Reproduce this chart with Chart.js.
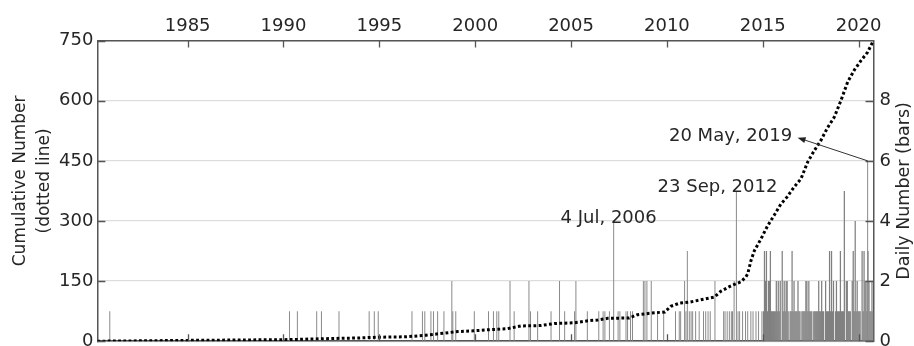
<!DOCTYPE html>
<html><head><meta charset="utf-8">
<script src="https://cdn.jsdelivr.net/npm/chart.js@4.4.0/dist/chart.umd.min.js"></script>
<style>
html,body{margin:0;padding:0;overflow:hidden;background:#fff;}
#wrap{width:914px;height:358px;position:relative;}
</style></head><body>
<div id="wrap"><canvas id="c" width="914" height="358"></canvas></div>
<script>
// ---- data ----
const cumYears  = [1980.33,1984.9,1990.1,1991.6,1993.5,1994.6,1996.0,1997.0,1997.7,1998.6,1999.4,2000.3,2001.1,2001.8,2002.8,2003.5,2004.5,2005.2,2005.7,2006.2,2007.3,2007.7,2008.4,2009.1,2009.4,2009.85,2010.4,2011.1,2011.6,2011.95,2012.45,2012.95,2013.2,2013.3,2013.46,2013.64,2013.97,2014.3,2014.65,2014.98,2015.3,2015.66,2016.0,2016.34,2016.68,2017.01,2017.35,2017.69,2018.03,2018.37,2018.71,2019.04,2019.38,2019.63,2019.68];
const cumValues = [0,2,4,6,8,10,11,15,19,24,26,29,31,38,39,44,46,51,53,57,58,66,70,73,87,95,98,105,110,125,138,148,160,168,200,226,255,287,315,342,360,385,405,447,476,501,533,559,601,647,677,700,721,746,750];

const barYears  = [1980.96,1990.07,1990.47,1991.45,1991.69,1992.58,1994.11,1994.37,1994.57,1996.28,1996.81,1996.93,1997.24,1997.37,1997.58,1997.90,1998.30,1998.35,1998.50,1999.44,2000.16,2000.41,2000.58,2000.68,2001.25,2001.46,2002.21,2002.29,2002.65,2003.33,2003.76,2004.02,2004.52,2004.59,2005.17,2005.75,2005.97,2006.06,2006.29,2006.505,2006.73,2006.82,2007.13,2007.21,2007.36,2007.46,2008.01,2008.09,2008.19,2008.41,2008.73,2009.04,2009.64,2009.83,2009.90,2010.10,2010.17,2010.24,2010.34,2010.43,2010.51,2010.66,2010.84,2011.06,2011.17,2011.29,2011.40,2011.64,2012.08,2012.15,2012.26,2012.37,2012.47,2012.53,2012.61,2012.727,2012.81,2012.89,2013.04,2013.19,2013.30,2013.46,2013.57,2013.72,2013.85,2014.02,2019.38];
const barCounts = [1,1,1,1,1,1,1,1,1,1,1,1,1,1,1,1,2,1,1,1,1,1,1,1,2,1,2,1,1,1,2,1,1,2,1,1,1,1,1,4,1,1,1,1,1,1,2,2,2,2,1,1,1,1,1,2,1,3,1,1,1,1,1,1,1,1,1,2,1,1,1,1,1,1,2,5,1,1,1,1,1,1,1,1,1,1,6];

// dense period: daily maximum read per 0.05-year slot, starting 2014.10
const denseStartYear = 2014.10;
const denseStepYears = 0.05;
const denseCounts = [1,3,2,3,1,2,2,3,1,1, 1,1,1,2,1,2,1,2,0,3, 1,2,1,2,2,1,0,1,1,3, 1,2,1,1,1,2,1,1,0,1, 1,1,1,2,2,1,2,1,1,1, 0,1,1,1,1,1,2,1,1,2, 1,1,0,2,1,1,1,3,1,3, 1,2,0,1,2,1,1,1,3,1, 1,1,5,0,2,2,1,1,1,0, 2,3,1,4,1,2,1,1,1,0, 3,1,3,2,2,1,3,2,1,1, 2,1];

const topTickYears  = [1985,1990,1995,2000,2005,2010,2015,2020];
const topTickLabels = ['1985','1990','1995','2000','2005','2010','2015','2020'];
const leftTicks  = [0,150,300,450,600,750];
const rightTicks = [0,2,4,6,8];

const leftTitleLines = ['Cumulative Number', '(dotted line)'];
const rightTitle = 'Daily Number (bars)';
const annoTexts  = ['4 Jul, 2006','23 Sep, 2012','20 May, 2019'];
const annoYears  = [2006.25, 2011.77, 2012.43];
const annoValues = [4.10, 5.12, 6.83];
const arrowFrom = {year: 2019.38, value: 6};
const arrowTo   = {year: 2015.83, value: 6.77};

// ---- build datasets ----
const sparsePoints = barYears.map((y,i)=>({x:y, y:barCounts[i]}));
const densePoints = [];
denseCounts.forEach((c,i)=>{ if (c>0) densePoints.push({x: denseStartYear + i*denseStepYears, y:c}); });
const cumPoints = cumYears.map((y,i)=>({x:y, y:cumValues[i]}));

const FONT = 'DejaVu Sans';
const TXT = '#262626';
const AXC = '#555555';

const decor = {
  id: 'decor',
  afterDraw(chart) {
    const {ctx, chartArea: a, scales} = chart;
    ctx.save();
    // inward tick marks
    ctx.strokeStyle = AXC; ctx.lineWidth = 1.3; ctx.beginPath();
    scales.xTop.ticks.forEach((t,i)=>{
      const px = Math.round(scales.xTop.getPixelForTick(i)) + 0.5;
      ctx.moveTo(px, a.top); ctx.lineTo(px, a.top + 7);
      ctx.moveTo(px, a.bottom); ctx.lineTo(px, a.bottom - 7);
    });
    scales.y.ticks.forEach((t,i)=>{
      const py = Math.round(scales.y.getPixelForTick(i)) + 0.5;
      ctx.moveTo(a.left, py); ctx.lineTo(a.left + 8, py);
    });
    scales.y2.ticks.forEach((t,i)=>{
      const py = Math.round(scales.y2.getPixelForTick(i)) + 0.5;
      ctx.moveTo(a.right, py); ctx.lineTo(a.right - 8, py);
    });
    ctx.stroke();
    // annotations
    const xs = scales.x, ys = scales.y2;
    ctx.fillStyle = TXT;
    ctx.font = '18px "' + FONT + '"';
    ctx.textAlign = 'center'; ctx.textBaseline = 'middle';
    annoTexts.forEach((t,i)=>{
      ctx.fillText(t, xs.getPixelForValue(annoYears[i]), ys.getPixelForValue(annoValues[i]));
    });
    // arrow
    const x0 = xs.getPixelForValue(arrowFrom.year), y0 = ys.getPixelForValue(arrowFrom.value);
    const x1 = xs.getPixelForValue(arrowTo.year),   y1 = ys.getPixelForValue(arrowTo.value);
    const ang = Math.atan2(y1 - y0, x1 - x0);
    ctx.strokeStyle = '#333'; ctx.lineWidth = 1;
    ctx.beginPath(); ctx.moveTo(x0, y0); ctx.lineTo(x1 - 6*Math.cos(ang), y1 - 6*Math.sin(ang)); ctx.stroke();
    ctx.fillStyle = '#222';
    ctx.beginPath();
    ctx.moveTo(x1, y1);
    ctx.lineTo(x1 - 8*Math.cos(ang) + 3*Math.sin(ang), y1 - 8*Math.sin(ang) - 3*Math.cos(ang));
    ctx.lineTo(x1 - 8*Math.cos(ang) - 3*Math.sin(ang), y1 - 8*Math.sin(ang) + 3*Math.cos(ang));
    ctx.closePath(); ctx.fill();
    // axis titles (both read bottom to top)
    ctx.fillStyle = TXT; ctx.textAlign = 'center'; ctx.textBaseline = 'middle';
    ctx.font = '17.5px "' + FONT + '"';
    ctx.save();
    ctx.translate(904, (a.top + a.bottom) / 2);
    ctx.rotate(-Math.PI/2);
    ctx.fillText(rightTitle, 0, 0);
    ctx.restore();
    ctx.font = '17px "' + FONT + '"';
    ctx.save();
    ctx.translate(0, (a.top + a.bottom) / 2 - 10);
    ctx.rotate(-Math.PI/2);
    ctx.fillText(leftTitleLines[0], 0, 21);
    ctx.fillText(leftTitleLines[1], 0, 45);
    ctx.restore();
    ctx.restore();
  }
};

Chart.defaults.font.family = FONT;
Chart.defaults.font.size = 18;
Chart.defaults.color = TXT;

new Chart(document.getElementById('c'), {
  data: {
    datasets: [
      { type: 'line', data: cumPoints, xAxisID: 'x', yAxisID: 'y', order: 0,
        borderColor: '#000', borderWidth: 3, borderDash: [2.8, 2.4], borderCapStyle: 'butt',
        pointRadius: 0, tension: 0, fill: false },
      { type: 'bar', data: sparsePoints, xAxisID: 'x', yAxisID: 'y2', order: 1,
        backgroundColor: '#8a8a8a', barThickness: 1, grouped: false, borderWidth: 0, inflateAmount: 0 },
      { type: 'bar', data: densePoints, xAxisID: 'x', yAxisID: 'y2', order: 2,
        backgroundColor: '#808080', barThickness: 1.25, grouped: false, borderWidth: 0, inflateAmount: 0 }
    ]
  },
  options: {
    responsive: false, animation: false, devicePixelRatio: 1,
    layout: { padding: { top: 13, left: 55, right: 17, bottom: 0 } },
    plugins: { legend: { display: false }, tooltip: { enabled: false } },
    scales: {
      x: { type: 'linear', position: 'bottom', min: 1980.33, max: 2019.68, offset: false, grace: 0,
           bounds: 'data',
           ticks: { display: false }, grid: { drawOnChartArea: false, drawTicks: false, offset: false },
           border: { color: AXC, width: 1.5 } },
      xTop: { type: 'linear', position: 'top', min: 1980.29, max: 2020.78, offset: false,
           afterBuildTicks: s => { s.ticks = topTickYears.map(v => ({value: v})); },
           ticks: { padding: 3, callback: (v, i) => topTickLabels[i] },
           grid: { drawOnChartArea: false, drawTicks: false },
           border: { color: AXC, width: 1.5 } },
      y: { type: 'linear', position: 'left', min: 0, max: 750,
           afterBuildTicks: s => { s.ticks = leftTicks.map(v => ({value: v})); },
           ticks: { padding: 4 },
           grid: { color: '#dddddd', lineWidth: 1.3, drawTicks: false },
           border: { color: AXC, width: 1.5 } },
      y2: { type: 'linear', position: 'right', min: 0, max: 10,
           afterBuildTicks: s => { s.ticks = rightTicks.map(v => ({value: v})); },
           ticks: { padding: 6 },
           grid: { drawOnChartArea: false, drawTicks: false },
           border: { color: AXC, width: 1.5 } }
    }
  },
  plugins: [decor]
});
</script>
</body></html>
